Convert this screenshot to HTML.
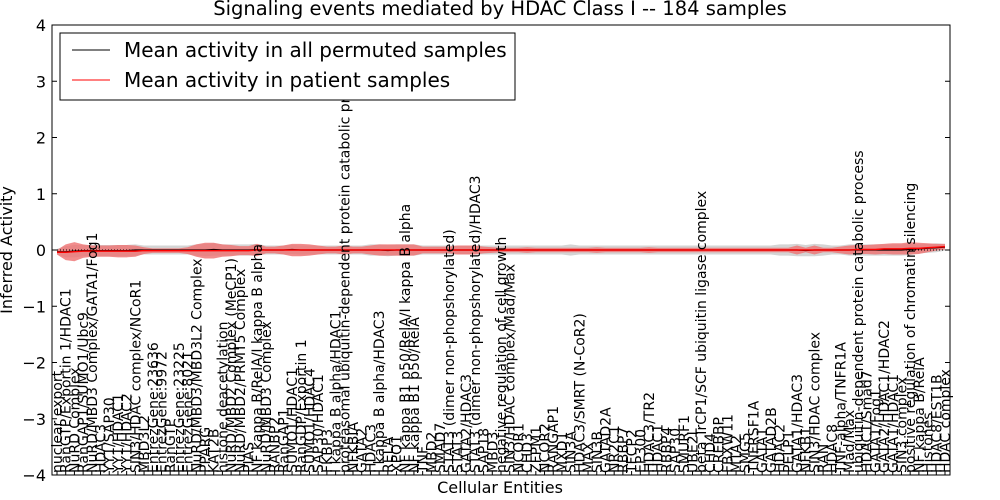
<!DOCTYPE html>
<html><head><meta charset="utf-8"><style>
html,body{margin:0;padding:0;background:#fff;}
svg{display:block;font-family:"DejaVu Sans","Liberation Sans",sans-serif;}
</style></head><body>
<svg id="chart" width="1000" height="500" viewBox="0 0 1000 500"></svg>
<script>
const entities=["nuclear export","RanGTP/Exportin 1/HDAC1","NuRD Complex","RanGAP1/SUMO1/Ubc9","NuRD/MBD3 Complex/GATA1/Fog1","HDAC3","YY1/SAP30","YY1/HDAC1","YY1/HDAC2","SIN3/HDAC complex/NCoR1",
"MBD3L2","EntrezGene:23636","EntrezGene:9972","RanGTP","EntrezGene:23225","EntrezGene:8021","NuRD/MBD3/MBD3L2 Complex","PPARG","KAT2B","histone deacetylation",
"NuRD/MBD2 Complex (MeCP1)","NuRD/MBD2/PRMT5 Complex","PIAS","NF kappa B/RelA/I kappa B alpha","NuRD/MBD3 Complex","RANBP2","RanGAP1","SUMO1/HDAC1","RanGDP/Exportin 1","SUMO1/HDAC4",
"SAP30/HDAC1","FKBP3","I kappa B alpha/HDAC1","proteasomal ubiquitin-dependent protein catabolic pr","NFKBIA","GATA2","HDAC3","I kappa B alpha/HDAC3","RELA","XPO1",
"NF kappa B1 p50/RelA/I kappa B alpha","NF kappa B1 p50/RelA","TNF","MBD2","SMAD7","STAT3 (dimer non-phopshorylated)","STAT3","GATA2/HDAC3","STAT3 (dimer non-phopshorylated)/HDAC3","SAP18",
"MBD3","negative regulation of cell growth","SIN3/HDAC complex/Mad/Max","NCOR1","CHD3","ZFPM1","NCOR2","RANGAP1","MXD1","SIN3A",
"HDAC3/SMRT (N-CoR2)","MAX","SIN3B","GATAD2A","NR2C1","RBBP7","TFCP2","EP300","HDAC3/TR2","HDAC1",
"RBBP4","SAP30","SMURF1","UBE2I","beta TrCP1/SCF ubiquitin ligase complex","CHD4","CREBBP","FBXW11","MTA2","SMG5",
"TNFRSF1A","GATA1","GATAD2B","HDAC2","PELP1","GATA1/HDAC3","NFKB1","SIN3/HDAC complex","RAN","HDAC8",
"TNF-alpha/TNFR1A","Mad/Max","ubiquitin-dependent protein catabolic process","HDAC1/Smad7","GATA1/Fog1","GATA2/HDAC1/HDAC2","GATA1/HDAC1","SIN3 complex","positive regulation of chromatin silencing","NF kappa B/RelA",
"Histones","HDAC8/EST1B","HDAC complex"];
const patientMean=[-0.04,-0.04,-0.03,-0.02,-0.02,-0.02,-0.02,-0.02,-0.02,-0.02,
-0.01,-0.01,-0.01,-0.01,-0.01,-0.01,-0.01,-0.01,-0.01,-0.01,
-0.01,-0.01,-0.01,0,0,0,0,0,0,0,
0,0,0,0,0,0,0,0,0,0,
0,0,0,0,0,0,0,0,0,0,
0,0,0,0,0,0,0,0,0,0,
0,0,0,0,0,0,0,0,0,0,
0,0,0,0,0,0,0,0,0,0,
0,0,0,0,0,0,0,0,0,0,
0,0,0.01,0.01,0.01,0.02,0.02,0.02,0.03,0.03,
0.04,0.05,0.06];
const permutedMean=[-0.03,-0.03,-0.02,-0.01,-0.01,-0.01,-0.01,-0.01,-0.01,0,
0,0,0,0,0,0,0,0,0.01,0,
0,0,0,0.01,0,0,0,0.01,0,0,
0,0,0,0,0,0,0,0,-0.01,0,
0,0,0,0,0,0,0,0,0,0,
0,0,0,0,0,0,0,0,0,0,
0,0,0,0,0,0,0,0,0,0,
0,0,0,0,0,0,0,0,0,0,
0,0,0,0,0,0,-0.01,0,0,0,
0,0,0,0,0,0,0,0,0.01,0.02,
0.03,0.04,0.05];
const patientSpread=[0.04,0.14,0.17,0.12,0.1,0.1,0.1,0.11,0.11,0.1,
0.06,0.04,0.04,0.04,0.04,0.06,0.11,0.14,0.14,0.11,
0.1,0.08,0.08,0.11,0.06,0.06,0.08,0.11,0.11,0.1,
0.08,0.06,0.06,0.08,0.06,0.06,0.08,0.1,0.1,0.1,
0.1,0.1,0.06,0.06,0.06,0.06,0.08,0.08,0.08,0.06,
0.05,0.04,0.04,0.04,0.05,0.04,0.04,0.04,0.04,0.04,
0.04,0.04,0.05,0.04,0.04,0.04,0.04,0.04,0.05,0.04,
0.04,0.04,0.04,0.04,0.04,0.04,0.04,0.04,0.04,0.04,
0.04,0.04,0.04,0.04,0.04,0.08,0.04,0.08,0.04,0.04,
0.06,0.08,0.08,0.08,0.09,0.09,0.1,0.1,0.11,0.1,
0.08,0.06,0.05];
const permutedSpread=[0.05,0.1,0.11,0.1,0.1,0.1,0.1,0.1,0.1,0.1,
0.08,0.08,0.08,0.08,0.08,0.08,0.1,0.11,0.11,0.1,
0.1,0.1,0.1,0.1,0.08,0.08,0.08,0.08,0.08,0.08,
0.08,0.08,0.08,0.08,0.08,0.08,0.1,0.1,0.1,0.1,
0.1,0.1,0.08,0.08,0.08,0.08,0.08,0.08,0.08,0.08,
0.08,0.08,0.08,0.08,0.08,0.08,0.08,0.08,0.08,0.1,
0.08,0.08,0.08,0.08,0.08,0.08,0.08,0.08,0.08,0.08,
0.08,0.08,0.08,0.08,0.08,0.08,0.08,0.08,0.08,0.08,
0.08,0.08,0.08,0.1,0.1,0.11,0.1,0.11,0.1,0.08,
0.08,0.1,0.1,0.1,0.1,0.1,0.1,0.1,0.1,0.08,
0.08,0.08,0.06];
const yTicks=[-4,-3,-2,-1,0,1,2,3,4];

const NS="http://www.w3.org/2000/svg";
const svg=document.getElementById('chart');
const L=52,R=950,T=25,B=475;
const n=entities.length;
const xs=i=>L+5+(R-L-10)*i/(n-1);
const ys=v=>T+(4-v)*(B-T)/8;
function mk(tag,attrs,parent){const e=document.createElementNS(NS,tag);for(const k in attrs)e.setAttribute(k,attrs[k]);(parent||svg).appendChild(e);return e;}
function band(mean,spread){const m=Math.min(mean.length,spread.length);let up=[],dn=[];for(let i=0;i<m;i++){up.push(xs(i)+','+ys(mean[i]+spread[i]));dn.unshift(xs(i)+','+ys(mean[i]-spread[i]));}return up.concat(dn).join(' ');}

const g1=mk('polygon',{points:band(permutedMean,permutedSpread),fill:'#d4d4d4'});

const g2=mk('polygon',{points:band(patientMean,patientSpread),fill:'#ee7070','fill-opacity':0.8});

const zl=mk('line',{x1:xs(0),x2:xs(n-1),y1:ys(0),y2:ys(0),stroke:'#000','stroke-dasharray':'1,2','stroke-width':1});

const pl=mk('polyline',{points:permutedMean.map((v,i)=>xs(i)+','+ys(v)).join(' '),fill:'none',stroke:'#000','stroke-width':1.2});

const ml=mk('polyline',{points:patientMean.map((v,i)=>xs(i)+','+ys(v)).join(' '),fill:'none',stroke:'#f00','stroke-width':1.5});


const fr=mk('rect',{x:L,y:T,width:R-L,height:B-T,fill:'none',stroke:'#000','stroke-width':1});


yTicks.forEach(t=>{
  const y=ys(t);
  mk('line',{x1:L,x2:L+5,y1:y,y2:y,stroke:'#000'});
  mk('line',{x1:R-5,x2:R,y1:y,y2:y,stroke:'#000'});
  const tx=mk('text',{x:L-6,y:y+6,'text-anchor':'end','font-size':16});
  tx.textContent=(t<0?'\u2212':'')+Math.abs(t);
  
});
entities.forEach((e,i)=>{
  const x=xs(i);
  mk('line',{x1:x,x2:x,y1:B,y2:B-4,stroke:'#000'});
  const tx=mk('text',{transform:`translate(${x+5},${B-2}) rotate(-90)`,'font-size':14});
  tx.textContent=e;
  
});
</script>
<svg width="1000" height="500" style="position:absolute;left:0;top:0;font-family:'DejaVu Sans','Liberation Sans',sans-serif;pointer-events:none">
<text x="500" y="15" text-anchor="middle" font-size="19.5">Signaling events mediated by HDAC Class I -- 184 samples</text>
<text transform="translate(12,250) rotate(-90)" text-anchor="middle" font-size="16">Inferred Activity</text>
<text x="500" y="493" text-anchor="middle" font-size="16">Cellular Entities</text>
<g>
<rect x="60" y="33" width="455" height="67" fill="#fff" stroke="#000"/>
<line x1="72" y1="50" x2="110" y2="50" stroke="#000"/>
<text x="124" y="57" font-size="20">Mean activity in all permuted samples</text>
<line x1="72" y1="80" x2="110" y2="80" stroke="#f00"/>
<text x="124" y="87" font-size="20">Mean activity in patient samples</text>
</g>
</svg>
</body></html>
